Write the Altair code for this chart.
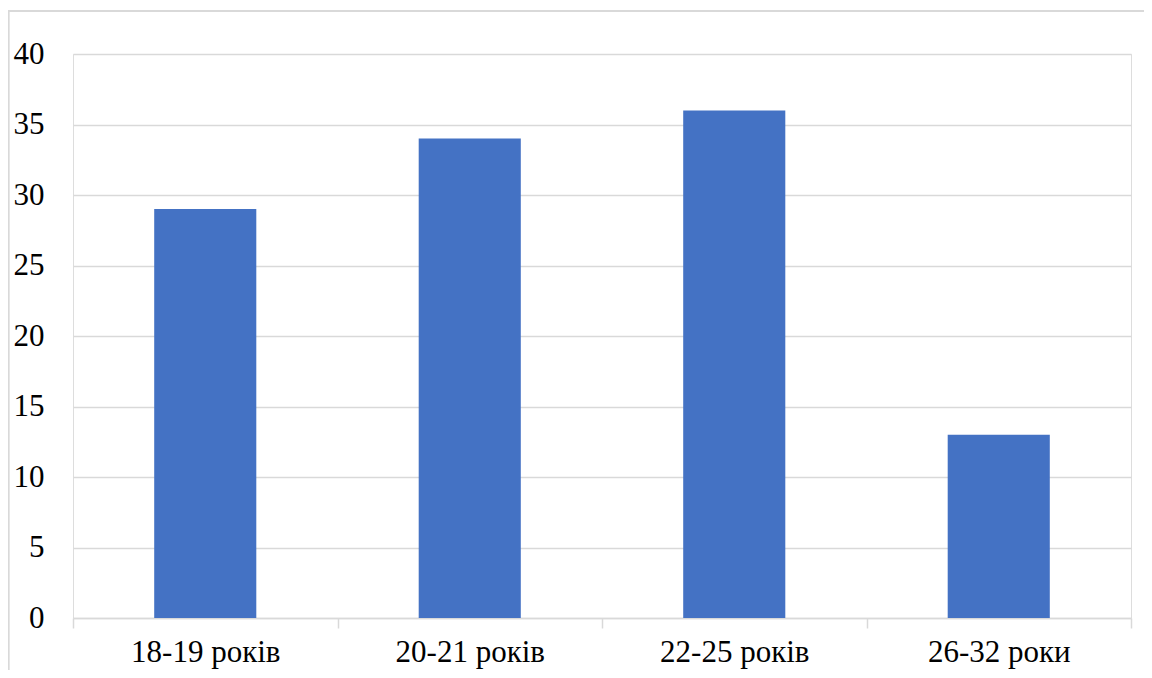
import altair as alt
import pandas as pd

categories = ["18-19 років", "20-21 років", "22-25 років", "26-32 роки"]
values = [29, 34, 36, 13]

df = pd.DataFrame({"cat": categories, "val": values})

FONT = "Liberation Serif"

bars = alt.Chart(df).mark_bar(color="#4472C4", width=alt.RelativeBandSize(0.386)).encode(
    x=alt.X("cat:N", sort=categories, title=None,
            scale=alt.Scale(paddingInner=0, paddingOuter=0),
            axis=alt.Axis(labelAngle=0, tickBand="extent", domainColor="#d9d9d9",
                          domainWidth=1.5, tickColor="#d9d9d9", tickWidth=1.5, tickSize=10,
                          labelFont=FONT, labelFontSize=31, labelColor="#000000",
                          labelPadding=9, grid=False)),
    y=alt.Y("val:Q", title=None,
            scale=alt.Scale(domain=[0, 40]),
            axis=alt.Axis(values=[0, 5, 10, 15, 20, 25, 30, 35, 40], domain=False, ticks=False,
                          gridColor="#d9d9d9", gridWidth=1.5,
                          labelFont=FONT, labelFontSize=31, labelColor="#000000",
                          labelPadding=29)),
)

border = alt.Chart(df).mark_rect(fill=None, stroke="#d9d9d9", strokeWidth=1.5, clip=False).encode(
    x=alt.value(-64.5), x2=alt.value(1100), y=alt.value(-43), y2=alt.value(700)
)

chart = alt.layer(border, bars).properties(
    width=1058, height=564,
    autosize=alt.AutoSizeParams(type="none"),
    padding={"left": 65, "top": 46, "right": 13, "bottom": 52},
).configure_view(stroke=None).configure(background="white")

chart.save("out.html", embed_options={"renderer": "svg", "actions": False})
